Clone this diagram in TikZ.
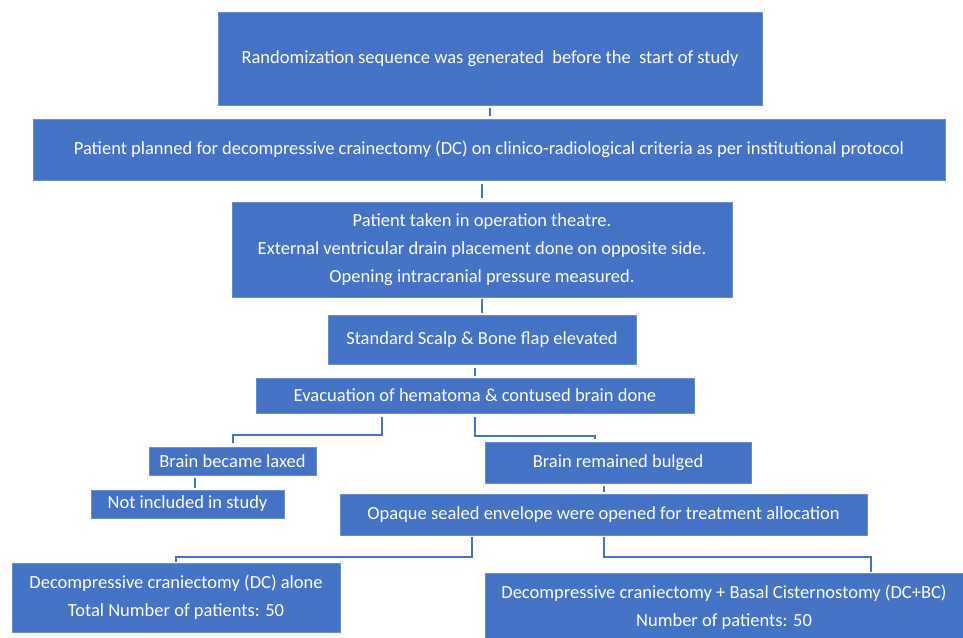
\documentclass[tikz,border=0pt]{standalone}
\usepackage{fontspec}
\setmainfont{Carlito}
\usepackage{tikz}
\definecolor{boxblue}{HTML}{4472C4}
\tikzstyle{process} = [rectangle, inner sep=0pt, text centered, align=center, text=white, draw=boxblue!80!white, line width=0.6pt, fill=boxblue, font=\fontsize{18.5}{28}\selectfont]
\tikzstyle{connector} = [line width=2pt, draw=boxblue]

\begin{document}
\begin{tikzpicture}[node distance=90pt]
        \useasboundingbox (0,0) rectangle (963pt,-637pt);
        \node (rand) [process, minimum width=544pt, minimum height=93pt] at (490pt,-58.5pt) {Randomization sequence was generated \ before the \ start of study};
        \node (plan) [process, below of=rand, yshift=-1pt, xshift=-1pt, minimum width=912pt, minimum height=61pt] {Patient planned for decompressive crainectomy (DC) on clinico-radiological criteria as per institutional protocol};
        \node (theatre) [process, below of=plan, yshift=-10pt, xshift=-7pt, minimum width=500pt, minimum height=95pt] {Patient taken in operation theatre.\\ External ventricular drain placement done on opposite side.\\ Opening intracranial pressure measured.};
        \node (flap) [process, below of=theatre, minimum width=308pt, minimum height=49pt] {Standard Scalp \& Bone flap elevated};
        \node (evac) [process, below of=flap, yshift=34pt, xshift=-7pt, minimum width=438pt, minimum height=35pt] {Evacuation of hematoma \& contused brain done};
        \node (laxed) [process, below of=evac, yshift=24.5pt, xshift=-242.5pt, minimum width=167pt, minimum height=28pt] {Brain became laxed};
        \node (bulged) [process, below of=evac, yshift=23pt, xshift=143pt, minimum width=266pt, minimum height=41pt] {Brain remained bulged};
        \node (notinc) [process, below of=laxed, yshift=47pt, xshift=-45pt, minimum width=193pt, minimum height=28pt] {Not included in study};
        \node (opaque) [process, below of=bulged, yshift=38pt, xshift=-14.5pt, minimum width=527pt, minimum height=41pt] {Opaque sealed envelope were opened for treatment allocation};
        \node (dcalone) [process, below of=opaque, yshift=7pt, xshift=-427.5pt, minimum width=328pt, minimum height=69pt] {Decompressive craniectomy (DC) alone\\ Total Number of patients: 50};
        \node (dcbc) [process, below of=opaque, yshift=-2.5pt, xshift=120.5pt, minimum width=478pt, minimum height=68pt] {Decompressive craniectomy + Basal Cisternostomy (DC+BC)\\ Number of patients: 50};

        \draw [connector] ([yshift=-3pt]rand.south) -- ([yshift=3pt]rand.south |- plan.north);
        \draw [connector] ([yshift=-4pt]theatre.north |- plan.south) -- ([yshift=4pt]theatre.north);
        \draw [connector] ([yshift=-2pt]theatre.south) -- ([yshift=2pt]flap.north);
        \draw [connector] ([yshift=-4pt]evac.north |- flap.south) -- ([yshift=2pt]evac.north);

        \draw [connector] ([xshift=-93pt,yshift=-4pt]evac.south) -- ++(0,-18pt) -| ([yshift=4pt]laxed.north);
        \draw [connector] ([yshift=-4pt]evac.south) -- ++(0,-19pt) -| ([xshift=-23pt,yshift=3pt]bulged.north);
        \draw [connector] ([xshift=7.5pt,yshift=-3pt]notinc.north |- laxed.south) -- ([xshift=7.5pt,yshift=2pt]notinc.north);
        \draw [connector] ([yshift=-3pt]opaque.north |- bulged.south) -- ([yshift=2pt]opaque.north);

        \draw [connector] ([xshift=-131.5pt,yshift=-2pt]opaque.south) -- ++(0,-20pt) -| ([yshift=1pt]dcalone.north);
        \draw [connector] ([yshift=-2pt]opaque.south) -- ++(0,-20pt) -| ([xshift=147pt,yshift=1pt]dcbc.north);
        % boxes are placed centre to centre
    \end{tikzpicture}
\end{document}
